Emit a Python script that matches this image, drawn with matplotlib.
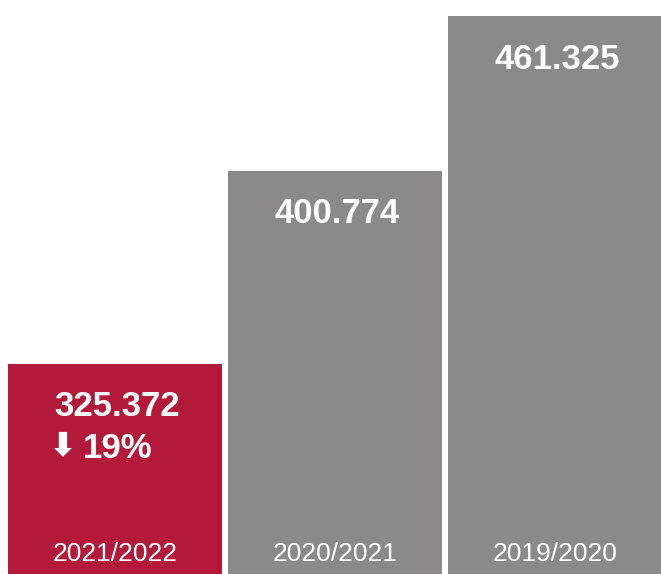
import matplotlib
matplotlib.use("Agg")
import matplotlib.pyplot as plt

seasons = ["2021/2022", "2020/2021", "2019/2020"]
values = [325.372, 400.774, 461.325]
value_labels = ["325.372", "400.774", "461.325"]
change_label = "19%"
colors = ["#B31A3A", "#8B898A", "#8B898A"]

plt.rcParams["font.family"] = ["Liberation Sans", "DejaVu Sans"]

fig = plt.figure(figsize=(6.61, 5.74), dpi=100)
ax = fig.add_axes([0, 0, 1, 1])

x = range(len(values))
ax.bar(x, values, width=0.973, color=colors, bottom=0)

# baseline is not zero in the source graphic
ax.set_ylim(243.15, 467.7)
ax.set_xlim(-0.523, 2.482)
ax.axis("off")

for i, v in enumerate(values):
    ax.annotate(value_labels[i], (i + 0.01, v), xytext=(0, -19), textcoords="offset points",
                ha="center", va="top", color="white", fontsize=25, fontweight="bold")
    ax.annotate(seasons[i], (i, 243.15), xytext=(0, 9.5), textcoords="offset points",
                ha="center", va="baseline", color="white", fontsize=19)

# down arrow + change for the current season
ax.annotate("\u2B07", (-0.29, values[0]), xytext=(-2, -47), textcoords="offset points",
            ha="left", va="top", color="white", fontsize=24, fontweight="bold",
            family=["DejaVu Sans"])
ax.annotate(change_label, (-0.145, values[0]), xytext=(0, -49), textcoords="offset points",
            ha="left", va="top", color="white", fontsize=25, fontweight="bold")

fig.savefig("out.png", dpi=100, facecolor="white")
